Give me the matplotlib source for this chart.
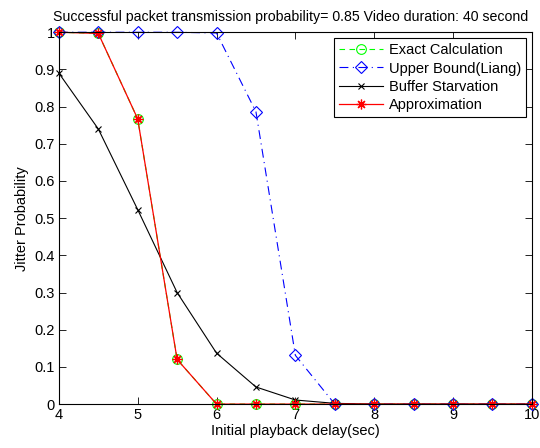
import numpy as np
import matplotlib.pyplot as plt

plt.rcParams['font.family'] = ['Liberation Sans', 'DejaVu Sans']
plt.rcParams['font.size'] = 10.5

# initial playback delay (sec)
delay = np.arange(4, 10.01, 0.5)

exact = [1.0, 0.997, 0.767, 0.12, 0.0, 0.0, 0.0, 0.0, 0.0, 0.0, 0.0, 0.0, 0.0]
upper = [1.0, 1.0, 1.0, 1.0, 0.998, 0.786, 0.131, 0.0, 0.0, 0.0, 0.0, 0.0, 0.0]
starvation = [0.89, 0.74, 0.523, 0.30, 0.137, 0.046, 0.011, 0.002, 0.0, 0.0, 0.0, 0.0, 0.0]
approx = [1.0, 0.997, 0.767, 0.12, 0.0, 0.0, 0.0, 0.0, 0.0, 0.0, 0.0, 0.0, 0.0]

fig = plt.figure(figsize=(5.4, 4.48), dpi=100)
ax = fig.add_axes([0.109, 0.098, 0.876, 0.830])

ax.plot(delay, exact, color='#00ff00', linestyle=(0, (5, 4)), lw=0.8,
        marker='o', ms=7, mfc='none', mec='#00ff00', mew=0.8,
        label='Exact Calculation', clip_on=False)
ax.plot(delay, upper, color='blue', linestyle=(0, (8, 4, 1, 4)), lw=0.8,
        marker='D', ms=6, mfc='none', mec='blue', mew=0.8,
        label='Upper Bound(Liang)', clip_on=False)
ax.plot(delay, starvation, color='black', lw=0.8,
        marker='x', ms=5, mew=0.8, label='Buffer Starvation', clip_on=False)
# asterisk marker: 8 spokes
ax.plot(delay, approx, color='red', lw=0.9,
        marker=(8, 2, 0), ms=7, mew=0.9, label='Approximation', clip_on=False)

ax.set_xlim(4, 10)
ax.set_ylim(0, 1)
ax.set_xticks(np.arange(4, 11, 1))
ax.set_yticks(np.arange(0, 1.01, 0.1))
ax.set_yticklabels(['0', '0.1', '0.2', '0.3', '0.4', '0.5', '0.6', '0.7', '0.8', '0.9', '1'])
ax.tick_params(direction='in', top=True, right=True, length=5, width=0.6,
               labelsize=10.5, pad=3)
for s in ax.spines.values():
    s.set_linewidth(0.8)

ax.set_xlabel('Initial playback delay(sec)', fontsize=10.5, labelpad=1)
ax.set_ylabel('Jitter Probability', fontsize=10.5, labelpad=4)
ax.set_title('Successful packet transmission probability= 0.85 Video duration: 40 second',
             fontsize=10.2, pad=8, x=0.49)

leg = ax.legend(loc='upper right', fontsize=10.5, fancybox=False, edgecolor='black',
                framealpha=1, borderaxespad=0.4, handlelength=3.0,
                handletextpad=0.4, labelspacing=0.3, borderpad=0.35)
leg.get_frame().set_linewidth(0.8)

fig.savefig('out.png', dpi=100)
